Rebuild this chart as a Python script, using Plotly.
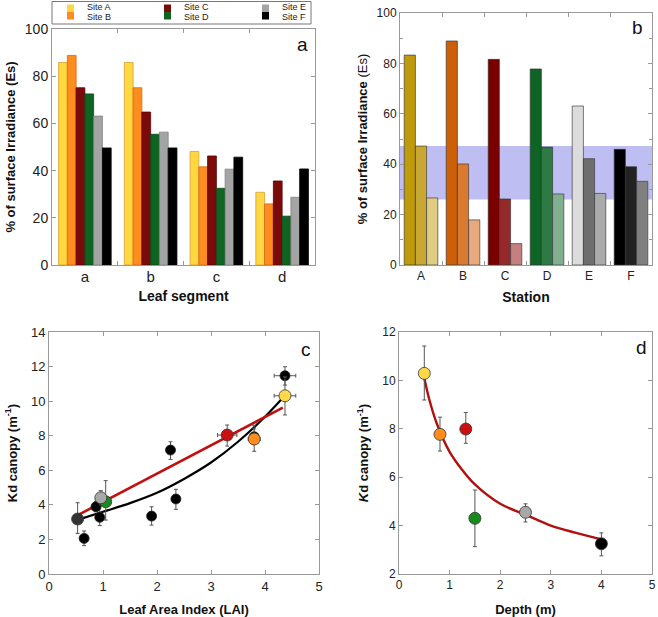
import plotly.graph_objects as go

W, H = 658, 617
FONT = "Liberation Sans, Arial, Helvetica, sans-serif"
NARROW = "Liberation Sans Narrow, Arial Narrow, Liberation Sans, sans-serif"

# ---------------- data ----------------
sites = ["Site A", "Site B", "Site C", "Site D", "Site E", "Site F"]
site_colors = ["#FFD740", "#FF8C1E", "#7B0A0A", "#0E6420", "#A4A4A4", "#000000"]
site_edges = ["#D8A030", "#D06818", "#5A0000", "#0A4A18", "#808080", "#000000"]

segments = ["a", "b", "c", "d"]
seg_vals = {
    "Site A": [85.8, 85.8, 48.1, 30.8],
    "Site B": [88.8, 75.1, 41.6, 25.9],
    "Site C": [75.1, 64.8, 46.2, 35.6],
    "Site D": [72.5, 55.4, 32.5, 20.7],
    "Site E": [63.1, 56.3, 40.6, 28.7],
    "Site F": [49.6, 49.6, 45.7, 40.7],
}

stations = ["A", "B", "C", "D", "E", "F"]
st_bar1 = [83.3, 88.9, 81.6, 77.8, 63.1, 45.9]
st_bar2 = [47.2, 40.1, 26.2, 46.8, 42.2, 39.0]
st_bar3 = [26.6, 17.9, 8.5, 28.2, 28.4, 33.2]
st_col1 = ["#BF9A0A", "#CC5F08", "#7A0000", "#0E6424", "#DCDCDC", "#000000"]
st_col2 = ["#C9A733", "#D97A2E", "#952929", "#2E7A44", "#6E6E6E", "#222222"]
st_col3 = ["#E0CC80", "#E6AA7E", "#C4807F", "#80B08E", "#AAAAAA", "#808080"]
band_low, band_high = 26.0, 47.2

# panel c : site points (A..F order as colored)
c_site_x = [4.37, 3.80, 3.30, 1.05, 0.96, 0.53]
c_site_y = [10.31, 7.81, 8.04, 4.18, 4.41, 3.18]
c_site_ylo = [9.20, 7.10, 7.40, 3.12, 4.00, 2.35]
c_site_yhi = [11.40, 8.60, 8.62, 5.40, 4.82, 4.12]
c_site_xlo = [4.17, 3.69, 3.12, 1.05, 0.96, 0.53]
c_site_xhi = [4.57, 3.91, 3.48, 1.05, 0.96, 0.53]
c_site_colors = ["#FFD84A", "#FF8C1E", "#CC1010", "#178C1E", "#A8A8A8", "#333333"]

c_blk_x = [0.65, 0.87, 0.94, 1.90, 2.25, 2.35, 3.80, 4.37]
c_blk_y = [2.06, 3.89, 3.28, 3.35, 7.17, 4.34, 7.94, 11.47]
c_blk_ylo = [1.64, 3.60, 2.80, 2.83, 6.63, 3.74, 7.50, 10.93]
c_blk_yhi = [2.49, 4.20, 3.90, 3.89, 7.65, 4.90, 8.40, 11.99]
c_blk_xlo = [0.65, 0.87, 0.94, 1.90, 2.25, 2.35, 3.80, 4.17]
c_blk_xhi = [0.65, 0.87, 0.94, 1.90, 2.25, 2.35, 3.80, 4.57]

c_red_x = [0.50, 4.33]
c_red_y = [3.35, 9.62]
c_blk_fit_x = [0.50, 1.0, 1.5, 2.0, 2.5, 3.0, 3.5, 4.0, 4.33]
c_blk_fit_y = [3.10, 3.60, 4.10, 4.70, 5.50, 6.45, 7.65, 9.10, 10.20]

# panel d
d_x = [0.50, 0.81, 1.32, 1.50, 2.50, 4.00]
d_y = [10.29, 7.77, 7.99, 4.30, 4.55, 3.25]
d_ylo = [9.19, 7.08, 7.40, 3.13, 4.15, 2.75]
d_yhi = [11.42, 8.48, 8.67, 5.47, 4.90, 3.70]
d_colors = ["#FFD84A", "#FF8C1E", "#CC1010", "#178C1E", "#A8A8A8", "#000000"]
d_fit_x = [0.50, 0.60, 0.75, 1.0, 1.25, 1.5, 2.0, 2.5, 3.0, 3.5, 4.0]
d_fit_y = [10.10, 9.20, 8.20, 7.05, 6.30, 5.70, 4.90, 4.45, 4.00, 3.70, 3.43]


def px(x):
    return x / W


def py(y):
    return 1 - y / H


fig = go.Figure()

# ---------- panel a ----------
for s, col, ec in zip(sites, site_colors, site_edges):
    fig.add_trace(go.Bar(x=segments, y=seg_vals[s], name=s, marker_color=col,
                         marker_line_color=ec, marker_line_width=0.8,
                         xaxis="x", yaxis="y", showlegend=False))

# ---------- panel b ----------
for vals, cols in [(st_bar1, st_col1), (st_bar2, st_col2), (st_bar3, st_col3)]:
    fig.add_trace(go.Bar(x=stations, y=vals, marker_color=cols,
                         marker_line_color="rgba(50,50,50,0.8)", marker_line_width=0.8,
                         xaxis="x2", yaxis="y2", showlegend=False))

fig.add_shape(type="rect", xref="x2 domain", yref="y2", x0=0, x1=1,
              y0=band_low, y1=band_high, fillcolor="rgb(190,190,242)",
              line_width=0, layer="below")

# ---------- panel c ----------
fig.add_trace(go.Scatter(x=c_blk_fit_x, y=c_blk_fit_y, mode="lines", line_shape="spline",
                         line=dict(color="black", width=2.2), xaxis="x3", yaxis="y3",
                         showlegend=False))
fig.add_trace(go.Scatter(x=c_red_x, y=c_red_y, mode="lines",
                         line=dict(color="#C01010", width=2.6), xaxis="x3", yaxis="y3",
                         showlegend=False))
fig.add_trace(go.Scatter(
    x=c_blk_x, y=c_blk_y, mode="markers",
    marker=dict(size=10, color="black", line=dict(color="#222", width=0.8)),
    error_y=dict(type="data", symmetric=False,
                 array=[h - v for h, v in zip(c_blk_yhi, c_blk_y)],
                 arrayminus=[v - l for l, v in zip(c_blk_ylo, c_blk_y)],
                 color="#555", thickness=1, width=2),
    error_x=dict(type="data", symmetric=False,
                 array=[h - v for h, v in zip(c_blk_xhi, c_blk_x)],
                 arrayminus=[v - l for l, v in zip(c_blk_xlo, c_blk_x)],
                 color="#555", thickness=1, width=2),
    xaxis="x3", yaxis="y3", showlegend=False))
fig.add_trace(go.Scatter(
    x=c_site_x, y=c_site_y, mode="markers",
    marker=dict(size=12, color=c_site_colors, line=dict(color="#333", width=0.8)),
    error_y=dict(type="data", symmetric=False,
                 array=[h - v for h, v in zip(c_site_yhi, c_site_y)],
                 arrayminus=[v - l for l, v in zip(c_site_ylo, c_site_y)],
                 color="#555", thickness=1, width=2),
    error_x=dict(type="data", symmetric=False,
                 array=[h - v for h, v in zip(c_site_xhi, c_site_x)],
                 arrayminus=[v - l for l, v in zip(c_site_xlo, c_site_x)],
                 color="#555", thickness=1, width=2),
    xaxis="x3", yaxis="y3", showlegend=False))

# ---------- panel d ----------
fig.add_trace(go.Scatter(x=d_fit_x, y=d_fit_y, mode="lines", line_shape="spline",
                         line=dict(color="#B01010", width=2.4), xaxis="x4", yaxis="y4",
                         showlegend=False))
fig.add_trace(go.Scatter(
    x=d_x, y=d_y, mode="markers",
    marker=dict(size=12, color=d_colors, line=dict(color="#333", width=0.8)),
    error_y=dict(type="data", symmetric=False,
                 array=[h - v for h, v in zip(d_yhi, d_y)],
                 arrayminus=[v - l for l, v in zip(d_ylo, d_y)],
                 color="#555", thickness=1, width=2),
    xaxis="x4", yaxis="y4", showlegend=False))

# ---------- axes ----------
AX = dict(showline=True, linecolor="#999", linewidth=1, mirror="ticks", ticks="inside",
          ticklen=4, tickcolor="#999", showgrid=False, zeroline=False, automargin=False,
          tickfont=dict(family=FONT, color="#222"))


def ax(**kw):
    d = dict(AX)
    d.update(kw)
    return d


title_font = dict(family=FONT, size=14, color="#111")
title_font13 = dict(family=FONT, size=13, color="#111")

fig.update_layout(
    width=W, height=H, margin=dict(l=0, r=0, t=0, b=0, autoexpand=False),
    paper_bgcolor="white", plot_bgcolor="white",
    barmode="group", bargap=0.2, bargroupgap=0,
    font=dict(family=FONT, color="#222"),
    xaxis=ax(domain=[px(52), px(315)], anchor="y", tickson="boundaries",
             tickfont=dict(family=FONT, size=15, color="#222"), ticklabelstandoff=-2,
             title=dict(text="<b>Leaf segment</b>", font=title_font, standoff=7)),
    yaxis=ax(domain=[py(265), py(29)], anchor="x", range=[0, 100], dtick=20,
             tickfont=dict(family=FONT, size=14, color="#222"),
             title=dict(text="<b>% of surface Irradiance (Es)</b>",
                        font=title_font13, standoff=6)),
    xaxis2=ax(domain=[px(400), px(652)], anchor="y2", tickson="boundaries",
              tickfont=dict(family=FONT, size=12, color="#222"),
              title=dict(text="<b>Station</b>", font=title_font, standoff=9)),
    yaxis2=ax(domain=[py(265), py(13)], anchor="x2", range=[0, 100], dtick=20,
              tickfont=dict(family=FONT, size=12, color="#222"),
              minor=dict(dtick=10, ticks="inside", ticklen=3, tickcolor="#999"),
              title=dict(text="<b>% of surface Irradiance</b> (Es)",
                         font=title_font13, standoff=6)),
    xaxis3=ax(domain=[px(49), px(319)], anchor="y3", range=[0, 5], dtick=1,
              tickfont=dict(family=FONT, size=13, color="#222"),
              title=dict(text="<b>Leaf Area Index (LAI)</b>", font=title_font13, standoff=15)),
    yaxis3=ax(domain=[py(574), py(332)], anchor="x3", range=[0, 14], dtick=2,
              tickfont=dict(family=FONT, size=13, color="#222"),
              title=dict(text="<b>Kd canopy (m<sup>-1</sup>)</b>", font=title_font13, standoff=10)),
    xaxis4=ax(domain=[px(399), px(652)], anchor="y4", range=[0, 5], dtick=1,
              tickfont=dict(family=FONT, size=12, color="#222"),
              title=dict(text="<b>Depth (m)</b>", font=title_font13, standoff=15)),
    yaxis4=ax(domain=[py(574), py(332)], anchor="x4", range=[2, 12], dtick=2,
              tickfont=dict(family=FONT, size=12, color="#222"),
              title=dict(text="<b><i>K</i>d canopy (m<sup>-1</sup>)</b>", font=title_font13,
                         standoff=10)),
)

# ---------- panel letters ----------
for letter, (lx, ly) in zip(["a", "b", "c", "d"], [(302, 44), (637, 28), (306, 349), (641, 348)]):
    fig.add_annotation(x=px(lx), y=py(ly), xref="paper", yref="paper", text=letter,
                       showarrow=False, font=dict(family=FONT, size=19, color="#111"),
                       xanchor="center", yanchor="middle")

# ---------- legend box (manual) ----------
fig.add_shape(type="rect", xref="paper", yref="paper", x0=px(52), x1=px(311),
              y0=py(24), y1=py(1.5), line=dict(color="#777", width=1), fillcolor="white")
col_x = [67, 164, 262]
row_y = [7, 17]
sw_y = [(4.5, 12), (12, 19.5)]
for i, (s, col) in enumerate(zip(sites, site_colors)):
    cx = col_x[i // 2]
    cy = row_y[i % 2]
    y_top, y_bot = sw_y[i % 2]
    fig.add_shape(type="rect", xref="paper", yref="paper", x0=px(cx), x1=px(cx + 7),
                  y0=py(y_bot), y1=py(y_top), fillcolor=col, line_width=0)
    fig.add_annotation(x=px(cx + 19), y=py(cy), xref="paper", yref="paper", text=s,
                       showarrow=False, xanchor="left", yanchor="middle",
                       borderpad=0,
                       font=dict(family=NARROW, size=9, color="#222"))

fig.write_html("out.html", config={"displayModeBar": False},
               post_script="document.body.style.margin='0';")
